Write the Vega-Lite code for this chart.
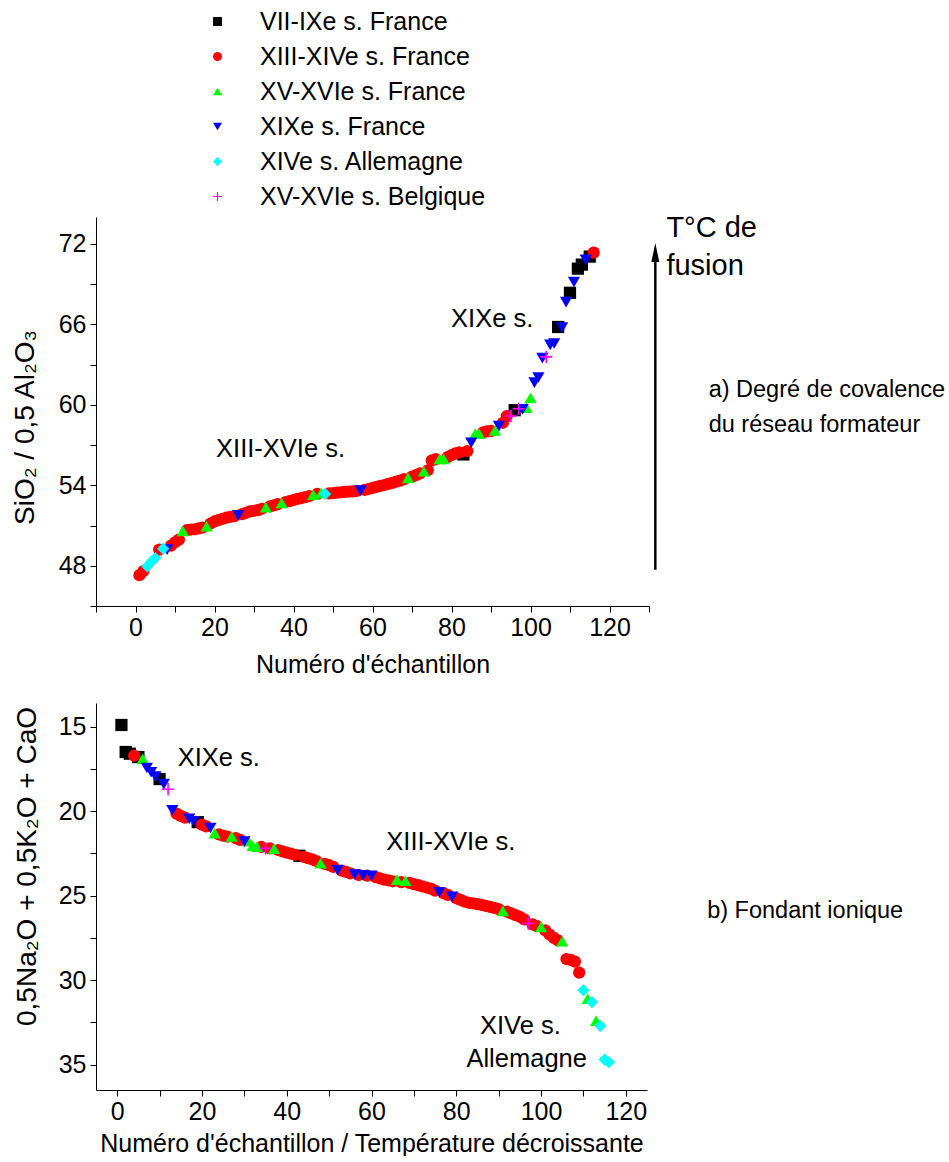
{
  "$schema": "https://vega.github.io/schema/vega-lite/v6.json",
  "background": "white",
  "padding": {"left": 11, "top": 9, "right": 0, "bottom": 0},
  "config": {
    "view": {"stroke": null},
    "font": "Liberation Sans",
    "axis": {"domainColor": "black", "tickColor": "black", "labelColor": "black", "titleColor": "black", "grid": false, "labelFont": "Liberation Sans", "titleFont": "Liberation Sans", "labelFontSize": 25, "titleFontSize": 25, "titleFontWeight": "normal", "tickSize": 6, "domainWidth": 1, "tickWidth": 1, "labelFlush": false, "labelOverlap": false, "labelPadding": 4},
    "legend": {"orient": "none", "legendX": 109, "legendY": -208, "direction": "vertical", "labelFontSize": 25, "labelFont": "Liberation Sans", "labelColor": "black", "symbolSize": 80, "labelOffset": 30, "rowPadding": 9, "symbolStrokeWidth": 0, "labelLimit": 0}
  },
  "datasets": {
    "top": [
      {"n":83,"v":56.3,"g":"VII-IXe s. France"},{"n":96,"v":59.6,"g":"VII-IXe s. France"},{"n":107,"v":65.8,"g":"VII-IXe s. France"},{"n":110,"v":68.35,"g":"VII-IXe s. France"},{"n":112,"v":70.15,"g":"VII-IXe s. France"},{"n":113,"v":70.45,"g":"VII-IXe s. France"},{"n":115,"v":71.05,"g":"VII-IXe s. France"},
      {"n":1,"v":47.3,"g":"XIII-XIVe s. France"},{"n":2,"v":47.6,"g":"XIII-XIVe s. France"},{"n":6,"v":49.2,"g":"XIII-XIVe s. France"},{"n":9,"v":49.5,"g":"XIII-XIVe s. France"},{"n":10,"v":49.75,"g":"XIII-XIVe s. France"},{"n":11,"v":49.95,"g":"XIII-XIVe s. France"},{"n":13,"v":50.65,"g":"XIII-XIVe s. France"},{"n":14,"v":50.7,"g":"XIII-XIVe s. France"},{"n":15,"v":50.72,"g":"XIII-XIVe s. France"},{"n":16,"v":50.78,"g":"XIII-XIVe s. France"},{"n":17,"v":50.85,"g":"XIII-XIVe s. France"},{"n":19,"v":51.15,"g":"XIII-XIVe s. France"},{"n":20,"v":51.3,"g":"XIII-XIVe s. France"},{"n":21,"v":51.4,"g":"XIII-XIVe s. France"},{"n":22,"v":51.5,"g":"XIII-XIVe s. France"},{"n":23,"v":51.58,"g":"XIII-XIVe s. France"},{"n":24,"v":51.65,"g":"XIII-XIVe s. France"},{"n":25,"v":51.7,"g":"XIII-XIVe s. France"},{"n":27,"v":51.85,"g":"XIII-XIVe s. France"},{"n":28,"v":51.95,"g":"XIII-XIVe s. France"},{"n":29,"v":52.05,"g":"XIII-XIVe s. France"},{"n":30,"v":52.1,"g":"XIII-XIVe s. France"},{"n":31,"v":52.15,"g":"XIII-XIVe s. France"},{"n":32,"v":52.25,"g":"XIII-XIVe s. France"},{"n":34,"v":52.42,"g":"XIII-XIVe s. France"},{"n":35,"v":52.5,"g":"XIII-XIVe s. France"},{"n":36,"v":52.6,"g":"XIII-XIVe s. France"},{"n":38,"v":52.75,"g":"XIII-XIVe s. France"},{"n":39,"v":52.82,"g":"XIII-XIVe s. France"},{"n":40,"v":52.9,"g":"XIII-XIVe s. France"},{"n":41,"v":52.98,"g":"XIII-XIVe s. France"},{"n":42,"v":53.05,"g":"XIII-XIVe s. France"},{"n":43,"v":53.12,"g":"XIII-XIVe s. France"},{"n":44,"v":53.2,"g":"XIII-XIVe s. France"},{"n":46,"v":53.35,"g":"XIII-XIVe s. France"},{"n":49,"v":53.4,"g":"XIII-XIVe s. France"},{"n":50,"v":53.42,"g":"XIII-XIVe s. France"},{"n":51,"v":53.45,"g":"XIII-XIVe s. France"},{"n":52,"v":53.48,"g":"XIII-XIVe s. France"},{"n":53,"v":53.5,"g":"XIII-XIVe s. France"},{"n":54,"v":53.52,"g":"XIII-XIVe s. France"},{"n":55,"v":53.55,"g":"XIII-XIVe s. France"},{"n":56,"v":53.58,"g":"XIII-XIVe s. France"},{"n":58,"v":53.65,"g":"XIII-XIVe s. France"},{"n":59,"v":53.72,"g":"XIII-XIVe s. France"},{"n":60,"v":53.8,"g":"XIII-XIVe s. France"},{"n":61,"v":53.88,"g":"XIII-XIVe s. France"},{"n":62,"v":53.95,"g":"XIII-XIVe s. France"},{"n":63,"v":54.02,"g":"XIII-XIVe s. France"},{"n":64,"v":54.1,"g":"XIII-XIVe s. France"},{"n":65,"v":54.18,"g":"XIII-XIVe s. France"},{"n":66,"v":54.27,"g":"XIII-XIVe s. France"},{"n":67,"v":54.35,"g":"XIII-XIVe s. France"},{"n":68,"v":54.45,"g":"XIII-XIVe s. France"},{"n":70,"v":54.65,"g":"XIII-XIVe s. France"},{"n":71,"v":54.75,"g":"XIII-XIVe s. France"},{"n":72,"v":54.88,"g":"XIII-XIVe s. France"},{"n":74,"v":55.12,"g":"XIII-XIVe s. France"},{"n":75,"v":55.85,"g":"XIII-XIVe s. France"},{"n":76,"v":55.95,"g":"XIII-XIVe s. France"},{"n":79,"v":56.1,"g":"XIII-XIVe s. France"},{"n":80,"v":56.25,"g":"XIII-XIVe s. France"},{"n":81,"v":56.38,"g":"XIII-XIVe s. France"},{"n":82,"v":56.45,"g":"XIII-XIVe s. France"},{"n":84,"v":56.55,"g":"XIII-XIVe s. France"},{"n":88,"v":57.95,"g":"XIII-XIVe s. France"},{"n":89,"v":58.02,"g":"XIII-XIVe s. France"},{"n":90,"v":58.06,"g":"XIII-XIVe s. France"},{"n":93,"v":58.66,"g":"XIII-XIVe s. France"},{"n":94,"v":59.16,"g":"XIII-XIVe s. France"},{"n":116,"v":71.35,"g":"XIII-XIVe s. France"},
      {"n":12,"v":50.6,"g":"XV-XVIe s. France"},{"n":18,"v":50.95,"g":"XV-XVIe s. France"},{"n":33,"v":52.36,"g":"XV-XVIe s. France"},{"n":37,"v":52.68,"g":"XV-XVIe s. France"},{"n":45,"v":53.3,"g":"XV-XVIe s. France"},{"n":47,"v":53.43,"g":"XV-XVIe s. France"},{"n":69,"v":54.55,"g":"XV-XVIe s. France"},{"n":73,"v":55.05,"g":"XV-XVIe s. France"},{"n":77,"v":55.97,"g":"XV-XVIe s. France"},{"n":78,"v":55.97,"g":"XV-XVIe s. France"},{"n":86,"v":57.84,"g":"XV-XVIe s. France"},{"n":87,"v":57.84,"g":"XV-XVIe s. France"},{"n":91,"v":58.09,"g":"XV-XVIe s. France"},{"n":99,"v":59.78,"g":"XV-XVIe s. France"},{"n":100,"v":60.53,"g":"XV-XVIe s. France"},
      {"n":8,"v":49.2,"g":"XIXe s. France"},{"n":26,"v":51.76,"g":"XIXe s. France"},{"n":57,"v":53.6,"g":"XIXe s. France"},{"n":85,"v":57.17,"g":"XIXe s. France"},{"n":92,"v":58.41,"g":"XIXe s. France"},{"n":98,"v":59.66,"g":"XIXe s. France"},{"n":101,"v":61.65,"g":"XIXe s. France"},{"n":102,"v":62.03,"g":"XIXe s. France"},{"n":103,"v":63.48,"g":"XIXe s. France"},{"n":105,"v":64.47,"g":"XIXe s. France"},{"n":106,"v":64.57,"g":"XIXe s. France"},{"n":108,"v":65.75,"g":"XIXe s. France"},{"n":109,"v":67.65,"g":"XIXe s. France"},{"n":111,"v":69.15,"g":"XIXe s. France"},{"n":114,"v":70.8,"g":"XIXe s. France"},
      {"n":3,"v":47.95,"g":"XIVe s. Allemagne"},{"n":4,"v":48.3,"g":"XIVe s. Allemagne"},{"n":5,"v":48.57,"g":"XIVe s. Allemagne"},{"n":7,"v":49.27,"g":"XIVe s. Allemagne"},{"n":48,"v":53.35,"g":"XIVe s. Allemagne"},
      {"n":95,"v":59.16,"g":"XV-XVIe s. Belgique"},{"n":97,"v":59.7,"g":"XV-XVIe s. Belgique"},{"n":104,"v":63.57,"g":"XV-XVIe s. Belgique"}
    ],
    "bottom": [
      {"n":1,"v":14.9,"g":"VII-IXe s. France"},{"n":2,"v":16.5,"g":"VII-IXe s. France"},{"n":3,"v":16.6,"g":"VII-IXe s. France"},{"n":5,"v":16.8,"g":"VII-IXe s. France"},{"n":10,"v":18.1,"g":"VII-IXe s. France"},{"n":19,"v":20.65,"g":"VII-IXe s. France"},{"n":43,"v":22.64,"g":"VII-IXe s. France"},
      {"n":4,"v":16.72,"g":"XIII-XIVe s. France"},{"n":14,"v":20.15,"g":"XIII-XIVe s. France"},{"n":15,"v":20.28,"g":"XIII-XIVe s. France"},{"n":16,"v":20.38,"g":"XIII-XIVe s. France"},{"n":20,"v":20.8,"g":"XIII-XIVe s. France"},{"n":21,"v":20.9,"g":"XIII-XIVe s. France"},{"n":24,"v":21.38,"g":"XIII-XIVe s. France"},{"n":25,"v":21.45,"g":"XIII-XIVe s. France"},{"n":26,"v":21.5,"g":"XIII-XIVe s. France"},{"n":28,"v":21.6,"g":"XIII-XIVe s. France"},{"n":29,"v":21.7,"g":"XIII-XIVe s. France"},{"n":34,"v":22.12,"g":"XIII-XIVe s. France"},{"n":36,"v":22.2,"g":"XIII-XIVe s. France"},{"n":38,"v":22.3,"g":"XIII-XIVe s. France"},{"n":39,"v":22.38,"g":"XIII-XIVe s. France"},{"n":40,"v":22.45,"g":"XIII-XIVe s. France"},{"n":41,"v":22.52,"g":"XIII-XIVe s. France"},{"n":42,"v":22.58,"g":"XIII-XIVe s. France"},{"n":44,"v":22.7,"g":"XIII-XIVe s. France"},{"n":45,"v":22.78,"g":"XIII-XIVe s. France"},{"n":46,"v":22.85,"g":"XIII-XIVe s. France"},{"n":47,"v":22.95,"g":"XIII-XIVe s. France"},{"n":49,"v":23.12,"g":"XIII-XIVe s. France"},{"n":50,"v":23.2,"g":"XIII-XIVe s. France"},{"n":51,"v":23.3,"g":"XIII-XIVe s. France"},{"n":53,"v":23.52,"g":"XIII-XIVe s. France"},{"n":54,"v":23.6,"g":"XIII-XIVe s. France"},{"n":55,"v":23.68,"g":"XIII-XIVe s. France"},{"n":57,"v":23.78,"g":"XIII-XIVe s. France"},{"n":59,"v":23.82,"g":"XIII-XIVe s. France"},{"n":61,"v":23.9,"g":"XIII-XIVe s. France"},{"n":62,"v":23.98,"g":"XIII-XIVe s. France"},{"n":63,"v":24.05,"g":"XIII-XIVe s. France"},{"n":64,"v":24.1,"g":"XIII-XIVe s. France"},{"n":65,"v":24.15,"g":"XIII-XIVe s. France"},{"n":67,"v":24.2,"g":"XIII-XIVe s. France"},{"n":69,"v":24.25,"g":"XIII-XIVe s. France"},{"n":70,"v":24.32,"g":"XIII-XIVe s. France"},{"n":71,"v":24.38,"g":"XIII-XIVe s. France"},{"n":72,"v":24.45,"g":"XIII-XIVe s. France"},{"n":73,"v":24.52,"g":"XIII-XIVe s. France"},{"n":74,"v":24.58,"g":"XIII-XIVe s. France"},{"n":75,"v":24.7,"g":"XIII-XIVe s. France"},{"n":77,"v":24.85,"g":"XIII-XIVe s. France"},{"n":78,"v":24.95,"g":"XIII-XIVe s. France"},{"n":80,"v":25.15,"g":"XIII-XIVe s. France"},{"n":81,"v":25.25,"g":"XIII-XIVe s. France"},{"n":82,"v":25.35,"g":"XIII-XIVe s. France"},{"n":83,"v":25.42,"g":"XIII-XIVe s. France"},{"n":84,"v":25.46,"g":"XIII-XIVe s. France"},{"n":85,"v":25.5,"g":"XIII-XIVe s. France"},{"n":86,"v":25.55,"g":"XIII-XIVe s. France"},{"n":87,"v":25.6,"g":"XIII-XIVe s. France"},{"n":88,"v":25.66,"g":"XIII-XIVe s. France"},{"n":89,"v":25.72,"g":"XIII-XIVe s. France"},{"n":90,"v":25.8,"g":"XIII-XIVe s. France"},{"n":92,"v":25.95,"g":"XIII-XIVe s. France"},{"n":93,"v":26.05,"g":"XIII-XIVe s. France"},{"n":94,"v":26.15,"g":"XIII-XIVe s. France"},{"n":95,"v":26.25,"g":"XIII-XIVe s. France"},{"n":96,"v":26.4,"g":"XIII-XIVe s. France"},{"n":98,"v":26.7,"g":"XIII-XIVe s. France"},{"n":99,"v":26.8,"g":"XIII-XIVe s. France"},{"n":101,"v":27.05,"g":"XIII-XIVe s. France"},{"n":102,"v":27.3,"g":"XIII-XIVe s. France"},{"n":103,"v":27.5,"g":"XIII-XIVe s. France"},{"n":104,"v":27.65,"g":"XIII-XIVe s. France"},{"n":106,"v":28.75,"g":"XIII-XIVe s. France"},{"n":107,"v":28.8,"g":"XIII-XIVe s. France"},{"n":108,"v":28.9,"g":"XIII-XIVe s. France"},{"n":109,"v":29.55,"g":"XIII-XIVe s. France"},
      {"n":6,"v":16.9,"g":"XV-XVIe s. France"},{"n":23,"v":21.3,"g":"XV-XVIe s. France"},{"n":27,"v":21.5,"g":"XV-XVIe s. France"},{"n":31,"v":21.78,"g":"XV-XVIe s. France"},{"n":32,"v":22.05,"g":"XV-XVIe s. France"},{"n":33,"v":22.1,"g":"XV-XVIe s. France"},{"n":37,"v":22.22,"g":"XV-XVIe s. France"},{"n":48,"v":23.08,"g":"XV-XVIe s. France"},{"n":66,"v":24.05,"g":"XV-XVIe s. France"},{"n":68,"v":24.12,"g":"XV-XVIe s. France"},{"n":91,"v":25.9,"g":"XV-XVIe s. France"},{"n":100,"v":26.85,"g":"XV-XVIe s. France"},{"n":105,"v":27.7,"g":"XV-XVIe s. France"},{"n":111,"v":31.1,"g":"XV-XVIe s. France"},{"n":113,"v":32.4,"g":"XV-XVIe s. France"},
      {"n":7,"v":17.45,"g":"XIXe s. France"},{"n":8,"v":17.7,"g":"XIXe s. France"},{"n":9,"v":17.95,"g":"XIXe s. France"},{"n":11,"v":18.4,"g":"XIXe s. France"},{"n":13,"v":19.95,"g":"XIXe s. France"},{"n":17,"v":20.45,"g":"XIXe s. France"},{"n":18,"v":20.6,"g":"XIXe s. France"},{"n":22,"v":21.0,"g":"XIXe s. France"},{"n":30,"v":21.8,"g":"XIXe s. France"},{"n":52,"v":23.5,"g":"XIXe s. France"},{"n":56,"v":23.75,"g":"XIXe s. France"},{"n":58,"v":23.8,"g":"XIXe s. France"},{"n":60,"v":23.83,"g":"XIXe s. France"},{"n":76,"v":24.8,"g":"XIXe s. France"},{"n":79,"v":25.07,"g":"XIXe s. France"},
      {"n":110,"v":30.6,"g":"XIVe s. Allemagne"},{"n":112,"v":31.3,"g":"XIVe s. Allemagne"},{"n":114,"v":32.7,"g":"XIVe s. Allemagne"},{"n":115,"v":34.7,"g":"XIVe s. Allemagne"},{"n":116,"v":34.85,"g":"XIVe s. Allemagne"},
      {"n":12,"v":18.7,"g":"XV-XVIe s. Belgique"},{"n":35,"v":22.2,"g":"XV-XVIe s. Belgique"},{"n":97,"v":26.65,"g":"XV-XVIe s. Belgique"}
    ],
    "topNotes": [
      {"n":20.4,"v":56.7,"text":"XIII-XVIe s."},
      {"n":79.9,"v":66.36,"text":"XIXe s."}
    ],
    "topBig": [
      {"n":134.4,"v":73.2,"text":"T°C de"},
      {"n":134.4,"v":70.35,"text":"fusion"}
    ],
    "topSide": [
      {"n":145.1,"v":61.1,"text":"a) Degré de covalence"},
      {"n":145.1,"v":58.5,"text":"du réseau formateur"}
    ],
    "arrowLine": [{"n":131.6,"v":47.7,"v2":71.0}],
    "arrowHead": [{"n":131.6,"v":71.35}],
    "bottomNotes": [
      {"n":14.26,"v":16.83,"text":"XIXe s."},
      {"n":63.5,"v":21.84,"text":"XIII-XVIe s."},
      {"n":85.6,"v":32.71,"text":"XIVe s."},
      {"n":82.4,"v":34.69,"text":"Allemagne"}
    ],
    "bottomSide": [
      {"n":139.2,"v":25.9,"text":"b) Fondant ionique"}
    ]
  },
  "bounds": "flush",
  "spacing": 97,
  "resolve": {"scale": {"x": "independent", "y": "independent", "color": "shared", "shape": "shared"}},
  "vconcat": [
    {
      "width": 553,
      "height": 389,
      "encoding": {
        "x": {"field": "n", "type": "quantitative", "title": "Numéro d'échantillon",
          "scale": {"domain": [-10, 130], "nice": false, "zero": false},
          "axis": {"values": [-10,0,10,20,30,40,50,60,70,80,90,100,110,120,130], "labelExpr": "datum.value % 20 === 0 ? datum.label : ''", "labelPadding": 3, "titleY": 66, "titleBaseline": "alphabetic"}},
        "y": {"field": "v", "type": "quantitative", "title": "SiO₂ / 0,5 Al₂O₃",
          "scale": {"domain": [45, 74], "nice": false, "zero": false},
          "axis": {"values": [45,48,51,54,57,60,63,66,69,72], "labelExpr": "datum.value % 6 === 0 ? datum.label : ''", "titleX": -71, "titleY": 210, "titleBaseline": "middle", "titleAlign": "center", "titleAngle": -90, "titleFontSize": 28}}
      },
      "layer": [
        {
          "data": {"name": "top"},
          "mark": {"type": "point", "filled": true, "opacity": 1, "size": 150},
          "encoding": {
            "color": {"field": "g", "type": "nominal", "title": null,
              "scale": {"domain": ["VII-IXe s. France","XIII-XIVe s. France","XV-XVIe s. France","XIXe s. France","XIVe s. Allemagne","XV-XVIe s. Belgique"], "range": ["#000000","#ff0000","#00ff00","#0000ff","#00ffff","#ff00ff"]}},
            "shape": {"field": "g", "type": "nominal", "title": null,
              "scale": {"domain": ["VII-IXe s. France","XIII-XIVe s. France","XV-XVIe s. France","XIXe s. France","XIVe s. Allemagne","XV-XVIe s. Belgique"], "range": ["square","circle","triangle-up","triangle-down","diamond","M-1,-0.13H-0.13V-1H0.13V-0.13H1V0.13H0.13V1H-0.13V0.13H-1Z"]}}
          }
        },
        {
          "data": {"name": "topNotes"},
          "mark": {"type": "text", "align": "left", "baseline": "middle", "fontSize": 25.5, "font": "Liberation Sans", "color": "black"},
          "encoding": {"text": {"field": "text"}}
        },
        {
          "data": {"name": "topBig"},
          "mark": {"type": "text", "align": "left", "baseline": "middle", "fontSize": 29, "font": "Liberation Sans", "color": "black"},
          "encoding": {"text": {"field": "text"}}
        },
        {
          "data": {"name": "topSide"},
          "mark": {"type": "text", "align": "left", "baseline": "middle", "fontSize": 23.5, "font": "Liberation Sans", "color": "black"},
          "encoding": {"text": {"field": "text"}}
        },
        {
          "data": {"name": "arrowLine"},
          "mark": {"type": "rule", "strokeWidth": 2.5, "color": "black"},
          "encoding": {"y2": {"field": "v2"}}
        },
        {
          "data": {"name": "arrowHead"},
          "mark": {"type": "point", "shape": "M0,-1L0.42,1L-0.42,1Z", "size": 361, "filled": true, "color": "black", "opacity": 1}
        }
      ]
    },
    {
      "width": 551,
      "height": 387,
      "encoding": {
        "x": {"field": "n", "type": "quantitative", "title": "Numéro d'échantillon / Température décroissante",
          "scale": {"domain": [-5, 125], "nice": false, "zero": false},
          "axis": {"values": [0,10,20,30,40,50,60,70,80,90,100,110,120], "labelExpr": "datum.value % 20 === 0 ? datum.label : ''", "labelPadding": 3, "titleY": 61, "titleBaseline": "alphabetic"}},
        "y": {"field": "v", "type": "quantitative", "title": "0,5Na₂O + 0,5K₂O + CaO",
          "scale": {"domain": [13.6, 36.5], "nice": false, "zero": false, "reverse": true},
          "axis": {"values": [15,17.5,20,22.5,25,27.5,30,32.5,35], "labelExpr": "datum.value % 5 === 0 ? datum.label : ''", "titleX": -69, "titleY": 163, "titleBaseline": "middle", "titleAlign": "center", "titleAngle": -90, "titleFontSize": 28}}
      },
      "layer": [
        {
          "data": {"name": "bottom"},
          "mark": {"type": "point", "filled": true, "opacity": 1, "size": 150},
          "encoding": {
            "color": {"field": "g", "type": "nominal", "title": null,
              "scale": {"domain": ["VII-IXe s. France","XIII-XIVe s. France","XV-XVIe s. France","XIXe s. France","XIVe s. Allemagne","XV-XVIe s. Belgique"], "range": ["#000000","#ff0000","#00ff00","#0000ff","#00ffff","#ff00ff"]}},
            "shape": {"field": "g", "type": "nominal", "title": null,
              "scale": {"domain": ["VII-IXe s. France","XIII-XIVe s. France","XV-XVIe s. France","XIXe s. France","XIVe s. Allemagne","XV-XVIe s. Belgique"], "range": ["square","circle","triangle-up","triangle-down","diamond","M-1,-0.13H-0.13V-1H0.13V-0.13H1V0.13H0.13V1H-0.13V0.13H-1Z"]}}
          }
        },
        {
          "data": {"name": "bottomNotes"},
          "mark": {"type": "text", "align": "left", "baseline": "middle", "fontSize": 25.5, "font": "Liberation Sans", "color": "black"},
          "encoding": {"text": {"field": "text"}}
        },
        {
          "data": {"name": "bottomSide"},
          "mark": {"type": "text", "align": "left", "baseline": "middle", "fontSize": 23.5, "font": "Liberation Sans", "color": "black"},
          "encoding": {"text": {"field": "text"}}
        }
      ]
    }
  ]
}
